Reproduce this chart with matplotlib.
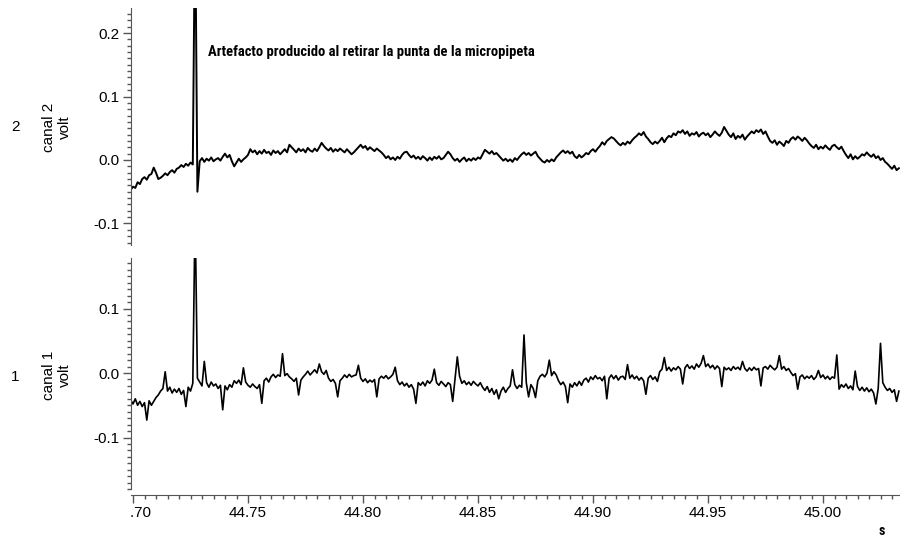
import numpy as np
import matplotlib
matplotlib.use("Agg")
import matplotlib.pyplot as plt
from matplotlib.ticker import MultipleLocator, FixedLocator, FixedFormatter, FormatStrFormatter
from matplotlib.patches import Rectangle

# ---------------- data (mV, sampled every 1 ms from t_start) ----------------
t_start = 44.699
t_step = 0.001

canal2_mV = [
    -47, -42, -44, -35, -38, -30, -27, -31, -24, -22,
    -12, -20, -30, -28, -25, -21, -24, -19, -16, -20,
    -14, -12, -8, -11, -6, -9, -4, -7, 400, -50,
    -2, 3, -3, 2, -1, 4, -2, 1, 3, -1,
    5, 10, 4, 8, -2, -10, -4, 2, -3, 1,
    4, 8, 17, 12, 15, 9, 14, 10, 16, 11,
    13, 8, 15, 11, 14, 9, 13, 17, 12, 24,
    20, 16, 12, 18, 14, 17, 12, 19, 15, 13,
    18, 14, 20, 27, 22, 18, 15, 19, 13, 17,
    14, 18, 15, 12, 17, 13, 9, 12, 16, 20,
    24, 19, 22, 16, 20, 17, 14, 18, 15, 12,
    8, 3, 6, 1, 4, 0, 5, 2, 8, 12,
    13, 8, 4, 7, 2, 5, 1, 6, 3, -1,
    4, 0, 5, 2, 6, 1, 3, 8, 13, 9,
    3, -1, 2, -3, 1, 4, -2, 2, -1, 3,
    0, 4, 2, 9, 16, 13, 10, 14, 9, 11,
    7, 3, -1, 2, -2, 1, -3, 3, 0, 5,
    9, 12, 8, 11, 7, 10, 13, 6, 2, -2,
    -4, 0, -3, 1, -2, 4, 8, 12, 15, 11,
    14, 10, 13, 6, 3, 8, 4, 7, 11, 9,
    14, 17, 13, 18, 22, 28, 24, 30, 33, 36,
    34, 30, 26, 23, 27, 24, 29, 26, 31, 35,
    38, 42, 39, 44, 37, 33, 28, 25, 29, 26,
    30, 35, 28, 34, 38, 36, 42, 39, 45, 43,
    47, 41, 45, 38, 42, 40, 44, 37, 41, 43,
    39, 42, 36, 40, 45, 41, 38, 43, 52, 46,
    40, 36, 42, 33, 38, 35, 40, 32, 37, 41,
    45, 42, 47, 44, 48, 41, 45, 37, 30, 27,
    31, 24, 29, 26, 22, 30, 27, 33, 36, 32,
    37, 34, 30, 35, 31, 26, 22, 19, 24, 17,
    21, 18, 23, 19, 16, 22, 24, 20, 17, 21,
    14, 8, 3, 9, 1, 6, 2, 5, 9, 7,
    12, 8, 5, 9, 3, 6, 0, 3, -3, -6,
    -10, -14, -9, -16, -13,
]

canal1_mV = [
    -42, -48, -40, -50, -44, -52, -46, -73, -43, -50,
    -44, -38, -34, -28, -24, 2, -28, -22, -31, -25,
    -30, -24, -33, -27, -52, -22, -28, -16, 250, -8,
    -14, -20, 18, -15, -22, -14, -20, -17, -24, -19,
    -57, -20, -26, -18, -22, -12, -16, -11, -18, 8,
    -14, -19, -22, -17, -21, -24, -18, -47, -12, -8,
    -14, -6, -2, -7, -3, -5, 30, -4, -1, -6,
    -9, -13, -8, -34, -11, -6, -2, 3, -3, 1,
    5, 0, 14, 2, -2, 4, -8, -13, -10, -16,
    -37, -12, -8, -3, -7, -2, -6, -4, -3, 12,
    -8, -13, -9, -15, -11, -14, -10, -37, -9, -5,
    -8, -4, -9, -6, -2, 9, -12, -18, -14, -20,
    -16, -22, -18, -25, -47, -15, -19, -14, -20, -12,
    -16, -11, 6, -15, -19, -13, -17, -21, -15, -18,
    -44, -10, 25, -5, -16, -12, -18, -14, -19, -13,
    -17, -20, -15, -22, -27, -21, -30, -24, -33, -26,
    -40, -28, -22, -30, -24, -20, 5, -18, -24, -19,
    -22, 59, -15, -37, -18, -24, -38, -12, -5, -2,
    -6, 0, 20, -4, 2, -3, -12, -18, -14, -21,
    -46, -17, -22, -15, -20, -13, -19, -11, -8, -14,
    -6, -10, -4, -9, -7, -12, -5, -40, -8, -3,
    -9, -4, -11, -6, -5, -10, 13, -8, -3, -9,
    -5, -11, -7, -12, -33, -8, -4, -10, -6, -13,
    2, 6, 24, 4, 9, 3, 8, 5, 10, 6,
    -17, 8, 13, 7, 11, 6, 14, 9, 15, 27,
    10, 14, 8, 12, 6, 11, 7, -21, 9, 5,
    8, 4, 10, 6, 9, 5, 18, 7, 3, 8,
    4, 9, 5, 7, -20, 8, 10, 6, 12, 8,
    5, 9, 27, 6, 10, 4, 7, 1, -4, -1,
    -25, -6, -3, -9, -5, -8, -4, -10, -6, 4,
    -7, -3, -9, -5, -10, -6, -8, 28, -25, -18,
    -22, -17, -24, -20, -26, 3, -21, -27, -22, -28,
    -23, -29, -25, -31, -48, -24, 46, -15, -22, -27,
    -24, -30, -26, -44, -28,
]

x_ticks = [44.70, 44.75, 44.80, 44.85, 44.90, 44.95, 45.00]
x_tick_labels = ["44.70", "44.75", "44.80", "44.85", "44.90", "44.95", "45.00"]
top_y_ticks = [-0.1, 0.0, 0.1, 0.2]
bottom_y_ticks = [-0.1, 0.0, 0.1]
annotation_text = "Artefacto producido al retirar la punta de la micropipeta"
artifact_time = 44.7274

# ---------------- figure ----------------
W, H = 900, 538
fig = plt.figure(figsize=(W / 100, H / 100), dpi=100)
fig.patch.set_facecolor("white")

plt.rcParams["font.family"] = ["Liberation Sans", "DejaVu Sans"]
cond_font = ["Roboto Condensed", "Roboto", "DejaVu Sans"]

def px_axes(left, top, right, bottom):
    return fig.add_axes([left / W, 1 - bottom / H, (right - left) / W, (bottom - top) / H])

ax2 = px_axes(131, 8, 900, 245)   # canal 2 (top)
ax1 = px_axes(131, 258, 900, 495)  # canal 1 (bottom)

t2 = t_start + t_step * np.arange(len(canal2_mV))
t1 = t_start + t_step * np.arange(len(canal1_mV))
v2 = np.array(canal2_mV) / 1000.0
v1 = np.array(canal1_mV) / 1000.0

xlim = (44.70 - 2 / 2300, 44.70 + 767 / 2300)
spine_col = "#555555"

ax2.plot(t2, v2, color="black", lw=1.4)
ax1.plot(t1, v1, color="black", lw=1.2)

ax2.set_xlim(*xlim)
ax1.set_xlim(*xlim)
ax2.set_ylim(-0.1339, 0.2394)
ax1.set_ylim(-0.1891, 0.1783)

for ax in (ax1, ax2):
    ax.set_facecolor("none")
    for s in ("top", "right"):
        ax.spines[s].set_visible(False)
    ax.spines["left"].set_color(spine_col)
    ax.spines["bottom"].set_color(spine_col)
    ax.yaxis.set_minor_locator(MultipleLocator(0.01))
    ax.tick_params(axis="y", which="major", direction="out", length=6, width=1,
                   color=spine_col, labelsize=11, pad=2)
    ax.tick_params(axis="y", which="minor", direction="out", length=3, width=1,
                   color=spine_col)

ax2.set_yticks(top_y_ticks)
ax1.set_yticks(bottom_y_ticks)
ax2.yaxis.set_major_formatter(FormatStrFormatter("%.1f"))
ax1.yaxis.set_major_formatter(FormatStrFormatter("%.1f"))
ax2.spines["bottom"].set_visible(False)
ax2.tick_params(axis="x", which="both", bottom=False, labelbottom=False)
ax2.spines["left"].set_bounds(-0.1339, 0.2394)
ax1.spines["left"].set_bounds(-0.1798, 0.1783)

ax1.xaxis.set_major_locator(FixedLocator(x_ticks))
ax1.xaxis.set_major_formatter(FixedFormatter(x_tick_labels))
ax1.xaxis.set_minor_locator(MultipleLocator(0.005))
ax1.tick_params(axis="x", which="major", direction="out", length=6, width=1,
                color=spine_col, labelsize=11, pad=2)
ax1.tick_params(axis="x", which="minor", direction="out", length=3, width=1,
                color=spine_col)

# annotation
ax2.text(artifact_time + 0.0052, 0.170, annotation_text, ha="left", va="center",
         fontsize=10.5, fontweight="bold", family=cond_font, color="black")

# side labels
fig.text(15 / W, 1 - 127 / H, "2", ha="center", va="center", fontsize=11)
fig.text(57 / W, 1 - 127 / H, "canal 2\nvolt", ha="center", va="center",
         rotation=90, multialignment="center", fontsize=11, linespacing=1.2)
fig.text(15 / W, 1 - 377 / H, "1", ha="center", va="center", fontsize=11)
fig.text(57 / W, 1 - 375 / H, "canal 1\nvolt", ha="center", va="center",
         rotation=90, multialignment="center", fontsize=11, linespacing=1.2)
fig.text(882 / W, 1 - 531 / H, "s", ha="center", va="center", fontsize=10,
         fontweight="bold", family=cond_font)

# clip the part of the first x tick label that lies left of the axis
fig.add_artist(Rectangle((0, 0), 130.5 / W, 40 / H, transform=fig.transFigure,
                         facecolor="white", edgecolor="none", zorder=10))

fig.savefig("out.png", dpi=100, facecolor="white")
